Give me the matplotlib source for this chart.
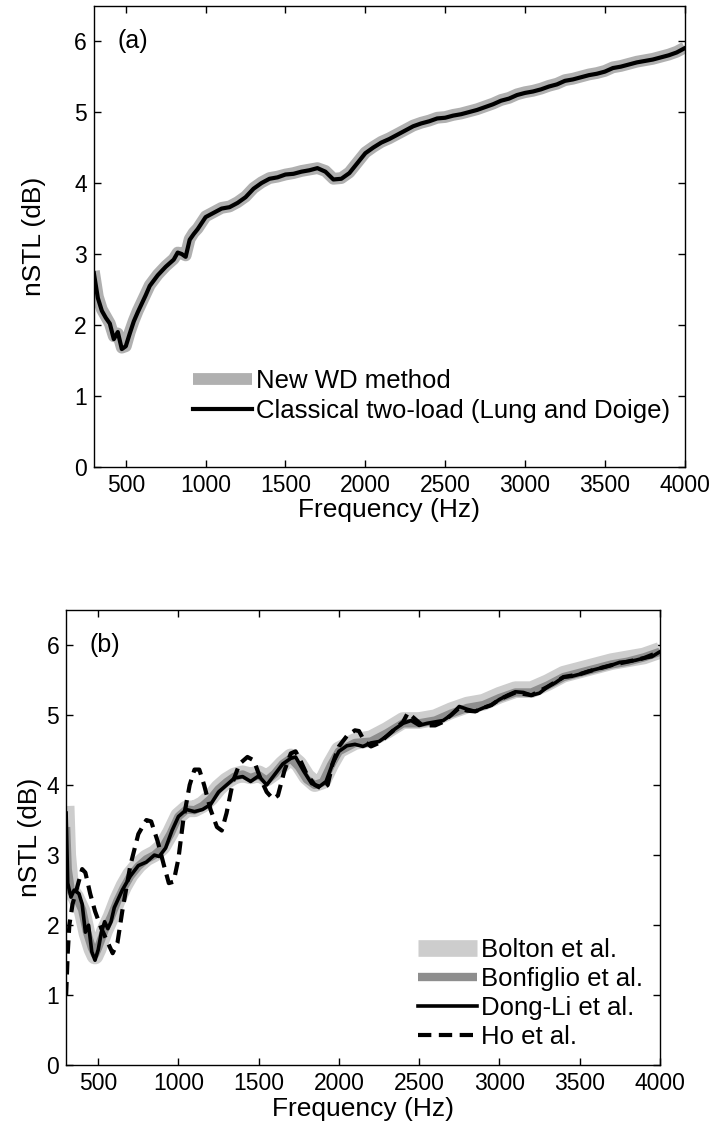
import numpy as np
import matplotlib.pyplot as plt

plt.rcParams['font.family'] = ['Liberation Sans', 'DejaVu Sans']

# ---- panel (a) data: normalized STL, New WD method vs classical two-load ----
freq_a = [300, 325, 350, 375, 400, 425, 450, 475, 500, 525, 550, 575, 600, 625, 650,
          700, 750, 800, 825, 850, 875, 900, 925, 950, 1000, 1050, 1100, 1150,
          1200, 1250, 1300, 1350, 1400, 1450, 1500, 1550, 1600, 1650, 1700,
          1750, 1800, 1850, 1900, 1950, 2000, 2050, 2100, 2150, 2200, 2250,
          2300, 2350, 2400, 2450, 2500, 2550, 2600, 2650, 2700, 2750, 2800,
          2850, 2900, 2950, 3000, 3050, 3100, 3150, 3200, 3250, 3300, 3350,
          3400, 3450, 3500, 3550, 3600, 3650, 3700, 3750, 3800, 3850, 3900,
          3950, 4000]
two_load = [2.73, 2.38, 2.20, 2.10, 2.02, 1.80, 1.90, 1.66, 1.70, 1.88, 2.05, 2.18, 2.30, 2.42, 2.55,
            2.70, 2.82, 2.92, 3.02, 3.00, 2.96, 3.20, 3.28, 3.35, 3.52, 3.58, 3.64, 3.66,
            3.72, 3.80, 3.92, 4.00, 4.06, 4.08, 4.12, 4.13, 4.16, 4.18, 4.21,
            4.16, 4.05, 4.06, 4.14, 4.28, 4.42, 4.50, 4.57, 4.62, 4.68, 4.74,
            4.80, 4.84, 4.87, 4.91, 4.92, 4.95, 4.97, 5.00, 5.03, 5.07, 5.11,
            5.16, 5.19, 5.24, 5.27, 5.29, 5.32, 5.36, 5.39, 5.44, 5.46, 5.49,
            5.52, 5.54, 5.57, 5.62, 5.64, 5.67, 5.70, 5.72, 5.74, 5.77, 5.80,
            5.84, 5.90]
new_wd = [2.76, 2.40, 2.22, 2.12, 2.02, 1.84, 1.88, 1.68, 1.70, 1.90, 2.06, 2.20, 2.32, 2.44, 2.56,
          2.71, 2.83, 2.93, 3.02, 3.01, 2.98, 3.21, 3.30, 3.36, 3.53, 3.59, 3.65, 3.67,
          3.73, 3.81, 3.93, 4.01, 4.07, 4.09, 4.12, 4.14, 4.17, 4.19, 4.21,
          4.17, 4.06, 4.07, 4.15, 4.29, 4.43, 4.51, 4.58, 4.63, 4.69, 4.75,
          4.81, 4.85, 4.88, 4.92, 4.93, 4.96, 4.98, 5.01, 5.04, 5.08, 5.12,
          5.17, 5.20, 5.25, 5.28, 5.30, 5.33, 5.37, 5.40, 5.45, 5.47, 5.50,
          5.53, 5.55, 5.58, 5.63, 5.65, 5.68, 5.71, 5.73, 5.75, 5.78, 5.81,
          5.85, 5.91]

# ---- panel (b) data: comparison between methods ----
freq_bolton = [300, 310, 330, 360, 400, 430, 460, 480, 500, 540, 580, 620, 660, 700,
               750, 800, 850, 900, 950, 1000, 1050, 1100, 1150, 1200, 1250, 1300,
               1350, 1400, 1450, 1500, 1550, 1600, 1650, 1700, 1750, 1800, 1850,
               1900, 1950, 2000, 2100, 2200, 2300, 2400, 2500, 2600, 2700, 2800,
               2900, 3000, 3100, 3200, 3300, 3400, 3500, 3600, 3700, 3800, 3900, 4000]
bolton = [3.70, 3.00, 2.50, 2.40, 2.20, 1.88, 1.66, 1.56, 1.66, 1.92, 2.12, 2.36, 2.56, 2.72,
          2.86, 2.96, 3.02, 3.12, 3.32, 3.56, 3.66, 3.66, 3.72, 3.82, 3.96, 4.06,
          4.13, 4.16, 4.13, 4.16, 4.10, 4.18, 4.30, 4.40, 4.30, 4.12, 4.02,
          4.06, 4.30, 4.50, 4.62, 4.66, 4.78, 4.92, 4.92, 4.96, 5.06, 5.14,
          5.18, 5.28, 5.36, 5.36, 5.46, 5.58, 5.64, 5.70, 5.76, 5.80, 5.84, 5.92]
freq_bonfiglio = freq_bolton
bonfiglio = [3.40, 2.80, 2.48, 2.42, 2.22, 1.90, 1.68, 1.58, 1.68, 1.93, 2.12, 2.35, 2.54, 2.70,
             2.84, 2.94, 3.00, 3.10, 3.30, 3.55, 3.65, 3.64, 3.70, 3.80, 3.94, 4.04,
             4.12, 4.15, 4.10, 4.14, 4.06, 4.16, 4.30, 4.38, 4.26, 4.08, 4.00,
             4.04, 4.28, 4.48, 4.60, 4.62, 4.74, 4.88, 4.88, 4.92, 5.02, 5.10,
             5.14, 5.24, 5.32, 5.32, 5.42, 5.54, 5.60, 5.66, 5.72, 5.76, 5.82, 5.90]
freq_dongli = [300, 310, 330, 350, 380, 400, 420, 440, 460, 480, 500, 520, 540, 560, 580,
               600, 650, 700, 750, 800, 850, 880, 920, 960, 1000, 1050, 1100, 1150,
               1200, 1250, 1300, 1350, 1400, 1450, 1500, 1550, 1600, 1650, 1700,
               1730, 1780, 1830, 1880, 1920, 1960, 2000, 2050, 2100, 2150, 2200,
               2250, 2300, 2350, 2400, 2450, 2500, 2550, 2600, 2650, 2700, 2750,
               2800, 2850, 2900, 2950, 3000, 3050, 3100, 3150, 3200, 3250, 3300,
               3350, 3400, 3450, 3500, 3550, 3600, 3650, 3700, 3750, 3800, 3850,
               3900, 3950, 4000]
dongli = [3.60, 2.60, 2.40, 2.50, 2.45, 2.30, 1.90, 2.00, 1.62, 1.50, 1.65, 1.90, 2.05, 1.95, 2.05,
          2.25, 2.50, 2.70, 2.85, 2.90, 3.00, 2.98, 3.10, 3.35, 3.55, 3.65, 3.62, 3.65,
          3.72, 3.90, 4.00, 4.10, 4.12, 4.05, 4.13, 4.00, 4.15, 4.30, 4.38,
          4.40, 4.20, 4.02, 3.98, 4.05, 4.30, 4.48, 4.56, 4.58, 4.55, 4.60,
          4.62, 4.70, 4.80, 4.88, 4.92, 4.85, 4.88, 4.90, 4.92, 5.00, 5.12,
          5.08, 5.05, 5.10, 5.14, 5.22, 5.28, 5.33, 5.32, 5.28, 5.31, 5.40,
          5.46, 5.54, 5.55, 5.58, 5.62, 5.65, 5.68, 5.71, 5.75, 5.76, 5.78,
          5.81, 5.83, 5.90]
freq_ho = [300, 310, 320, 340, 370, 400, 420, 450, 480, 520, 560, 590, 620, 650, 700,
           750, 800, 830, 870, 910, 940, 970, 1000, 1030, 1070, 1100, 1130, 1160,
           1200, 1240, 1270, 1300, 1340, 1380, 1430, 1470, 1510, 1550, 1590,
           1620, 1660, 1700, 1730, 1760, 1800, 1850, 1900, 1930, 1960, 2000,
           2050, 2100, 2125, 2160, 2200, 2250, 2300, 2350, 2400, 2430, 2470,
           2520, 2600, 2650, 2700, 2750, 2800, 2850, 2900, 2950, 3000, 3100,
           3200, 3300, 3400, 3500, 3600, 3700, 3800, 3900, 4000]
ho = [1.00, 1.60, 2.00, 2.30, 2.55, 2.80, 2.75, 2.45, 2.20, 1.95, 1.75, 1.60, 1.75, 2.20, 2.85,
      3.30, 3.50, 3.48, 3.20, 2.85, 2.60, 2.62, 2.95, 3.50, 4.00, 4.22, 4.22, 4.00,
      3.65, 3.40, 3.35, 3.60, 4.05, 4.30, 4.40, 4.35, 4.10, 3.90, 3.80,
      3.85, 4.20, 4.45, 4.48, 4.35, 4.15, 4.00, 3.94, 4.00, 4.30, 4.55,
      4.70, 4.78, 4.77, 4.62, 4.55, 4.60, 4.70, 4.80, 4.90, 5.03, 4.95,
      4.85, 4.85, 4.90, 5.00, 5.10, 5.06, 5.05, 5.10, 5.14, 5.22, 5.32,
      5.28, 5.40, 5.54, 5.58, 5.65, 5.71, 5.76, 5.81, 5.90]

xticks = [500, 1000, 1500, 2000, 2500, 3000, 3500, 4000]
yticks = [0, 1, 2, 3, 4, 5, 6]

fig = plt.figure(figsize=(7.11, 11.25), dpi=100)
ax1 = fig.add_axes([0.132, 0.585, 0.831, 0.410])
ax2 = fig.add_axes([0.093, 0.053, 0.835, 0.405])


def style_axes(ax, tag, ypad):
    ax.set_xlim(300, 4000)
    ax.set_ylim(0, 6.5)
    ax.set_xticks(xticks)
    ax.set_yticks(yticks)
    ax.tick_params(direction='in', top=True, right=True, length=5, width=1,
                   labelsize=16.5, pad=5)
    for s in ax.spines.values():
        s.set_linewidth(1.0)
    ax.set_xlabel('Frequency (Hz)', fontsize=19, labelpad=1)
    ax.set_ylabel('nSTL (dB)', fontsize=19, labelpad=ypad)
    ax.text(0.04, 6.0, tag, transform=ax.get_yaxis_transform(), fontsize=18,
            va='center')


# (a)
ax1.plot(freq_a, new_wd, color='#b0b0b0', lw=8.5, solid_capstyle='butt',
         label='New WD method')
ax1.plot(freq_a, two_load, color='black', lw=3,
         label='Classical two-load (Lung and Doige)')
style_axes(ax1, '(a)', 20)
ax1.legend(loc='lower left', bbox_to_anchor=(0.168, 0.095), frameon=False,
           fontsize=18.5, handlelength=2.3, handletextpad=0.15, labelspacing=0.22,
           borderpad=0, borderaxespad=0)

# (b)
ax2.plot(freq_bolton, bolton, color='#cdcdcd', lw=12, solid_capstyle='butt',
         label='Bolton et al.')
ax2.plot(freq_bonfiglio, bonfiglio, color='#8e8e8e', lw=6, solid_capstyle='butt',
         label='Bonfiglio et al.')
ax2.plot(freq_dongli, dongli, color='black', lw=2.6, label='Dong-Li et al.')
ax2.plot(freq_ho, ho, color='black', lw=3, ls=(0, (3.2, 1.8)), label='Ho et al.')
style_axes(ax2, '(b)', 3)
ax2.legend(loc='lower left', bbox_to_anchor=(0.592, 0.035), frameon=False,
           fontsize=18.5, handlelength=2.3, handletextpad=0.15, labelspacing=0.2,
           borderpad=0, borderaxespad=0)

fig.savefig('out.png', dpi=100)
